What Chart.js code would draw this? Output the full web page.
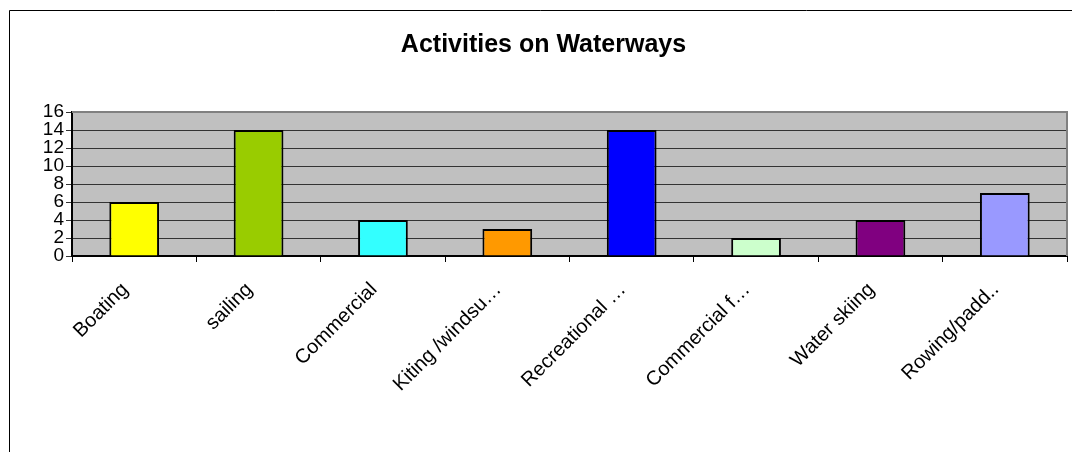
<!DOCTYPE html>
<html>
<head>
<meta charset="utf-8">
<script src="https://cdn.jsdelivr.net/npm/chart.js@4"></script>
<style>
  html, body { margin: 0; padding: 0; background: #fff; }
  #wrap { width: 1072px; height: 452px; }
</style>
</head>
<body>
<div id="wrap"><canvas id="activitiesChart" width="1072" height="452"></canvas></div>
<script>
// datos del grafico
var categories = ['Boating', 'sailing', 'Commercial', 'Kiting /windsu\u2026', 'Recreational \u2026', 'Commercial f\u2026', 'Water skiing', 'Rowing/padd..'];
var counts = [6, 14, 4, 3, 14, 2, 4, 7];
var barColors = ['#FFFF00', '#99CC00', '#33FFFF', '#FF9900', '#0000FF', '#CCFFCC', '#800080', '#9999FF'];
var yTicks = [0, 2, 4, 6, 8, 10, 12, 14, 16];

var FONT = "'Liberation Sans', Arial, sans-serif";

// fondo gris del area de trazado y marco exterior
var framePlugin = {
    id: 'framePlugin',
    beforeDraw: function (chart) {
        var ctx = chart.ctx;
        var a = chart.chartArea;
        ctx.save();
        ctx.fillStyle = '#ffffff';
        ctx.fillRect(0, 0, chart.width, chart.height);
        ctx.strokeStyle = '#000000';
        ctx.lineWidth = 1;
        ctx.beginPath();
        ctx.moveTo(9.5, chart.height);
        ctx.lineTo(9.5, 10.5);
        ctx.lineTo(chart.width, 10.5);
        ctx.stroke();
        ctx.fillStyle = '#C0C0C0';
        ctx.fillRect(a.left, a.top, a.right - a.left, a.bottom - a.top);
        ctx.restore();
    },
    beforeDatasetsDraw: function (chart) {
        var ctx = chart.ctx;
        var a = chart.chartArea;
        ctx.save();
        ctx.strokeStyle = '#808080';
        ctx.lineWidth = 2;
        ctx.beginPath();
        ctx.moveTo(a.left, a.top);
        ctx.lineTo(a.right, a.top);
        ctx.lineTo(a.right, a.bottom);
        ctx.stroke();
        ctx.restore();
    }
};

var ctx = document.getElementById('activitiesChart').getContext('2d');
var activitiesChart = new Chart(ctx, {
    type: 'bar',
    data: {
        labels: categories,
        datasets: [{
            label: 'Activities',
            data: counts,
            backgroundColor: barColors,
            borderColor: '#000000',
            borderWidth: 2,
            categoryPercentage: 1.0,
            barPercentage: 0.4
        }]
    },
    options: {
        responsive: false,
        animation: false,
        devicePixelRatio: 1,
        layout: { padding: { left: 20, right: 5, top: 0, bottom: 0 } },
        plugins: {
            legend: { display: false },
            tooltip: { enabled: false },
            title: {
                display: true,
                text: 'Activities on Waterways',
                color: '#000000',
                font: { family: FONT, size: 25, weight: 'bold' },
                padding: { top: 30, bottom: 52 }
            }
        },
        scales: {
            x: {
                afterFit: function (scale) { scale.height = 196; },
                grid: {
                    display: true,
                    offset: true,
                    drawOnChartArea: false,
                    drawTicks: true,
                    tickLength: 6,
                    color: '#000000',
                    lineWidth: 1
                },
                border: { display: true, color: '#000000', width: 2 },
                ticks: {
                    color: '#000000',
                    font: { family: FONT, size: 20 },
                    minRotation: 45,
                    maxRotation: 45,
                    autoSkip: false,
                    padding: 16,
                    labelOffset: -9
                }
            },
            y: {
                min: 0,
                max: 16,
                afterFit: function (scale) { scale.width = 52; },
                afterBuildTicks: function (scale) {
                    scale.ticks = yTicks.map(function (v) { return { value: v }; });
                },
                grid: {
                    color: '#333333',
                    lineWidth: 1,
                    drawTicks: true,
                    tickLength: 6
                },
                border: { display: true, color: '#000000', width: 2 },
                ticks: {
                    color: '#000000',
                    font: { family: FONT, size: 19 },
                    stepSize: 2,
                    autoSkip: false,
                    padding: 2
                }
            }
        }
    },
    plugins: [framePlugin]
});
</script>
</body>
</html>
